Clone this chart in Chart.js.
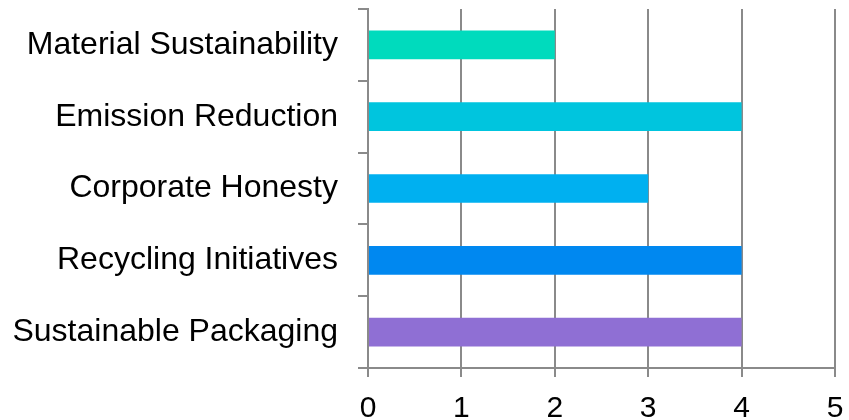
<!DOCTYPE html>
<html>
<head>
<meta charset="utf-8">
<script src="https://cdn.jsdelivr.net/npm/chart.js@4"></script>
<style>
  html, body { margin: 0; padding: 0; background: #fff; }
  #wrap { width: 849px; height: 420px; }
</style>
</head>
<body>
<div id="wrap"><canvas id="chart"></canvas></div>
<script>
const categories = [
  'Material Sustainability',
  'Emission Reduction',
  'Corporate Honesty',
  'Recycling Initiatives',
  'Sustainable Packaging'
];
const scores = [2, 4, 3, 4, 4];
const barColors = ['#00dbbd', '#00c5de', '#00b0f0', '#0088f0', '#8f6fd4'];
const xTicks = [0, 1, 2, 3, 4, 5];

const fontFamily = "'Liberation Sans', Arial, sans-serif";
const gridGray = '#8a8a8a';

const ctx = document.getElementById('chart').getContext('2d');
new Chart(ctx, {
  type: 'bar',
  data: {
    labels: categories,
    datasets: [{
      data: scores,
      backgroundColor: barColors,
      borderWidth: 0,
      categoryPercentage: 1,
      barPercentage: 0.4
    }]
  },
  options: {
    indexAxis: 'y',
    responsive: true,
    maintainAspectRatio: false,
    animation: false,
    layout: { padding: { left: 0, top: 9, right: 14, bottom: 0 } },
    plugins: {
      legend: { display: false },
      tooltip: { enabled: false }
    },
    scales: {
      x: {
        min: xTicks[0],
        max: xTicks[xTicks.length - 1],
        afterBuildTicks: (scale) => { scale.ticks = xTicks.map(v => ({ value: v })); },
        afterFit: (scale) => {
          scale.height = 52;
          scale.paddingLeft = 0;
          scale.paddingRight = 0;
        },
        grid: {
          color: gridGray,
          lineWidth: 2,
          drawTicks: true,
          tickLength: 9
        },
        border: { color: gridGray, width: 2 },
        ticks: {
          color: '#000',
          font: { family: fontFamily, size: 30 },
          padding: 14,
          maxRotation: 0
        }
      },
      y: {
        afterFit: (scale) => {
          scale.width = 368;
          scale.paddingTop = 0;
          scale.paddingBottom = 0;
        },
        grid: {
          offset: true,
          drawOnChartArea: false,
          drawTicks: true,
          tickLength: 10,
          color: gridGray,
          lineWidth: 2
        },
        border: { color: gridGray, width: 2 },
        ticks: {
          color: '#000',
          font: { family: fontFamily, size: 32 },
          padding: 20
        }
      }
    }
  }
});
</script>
</body>
</html>
